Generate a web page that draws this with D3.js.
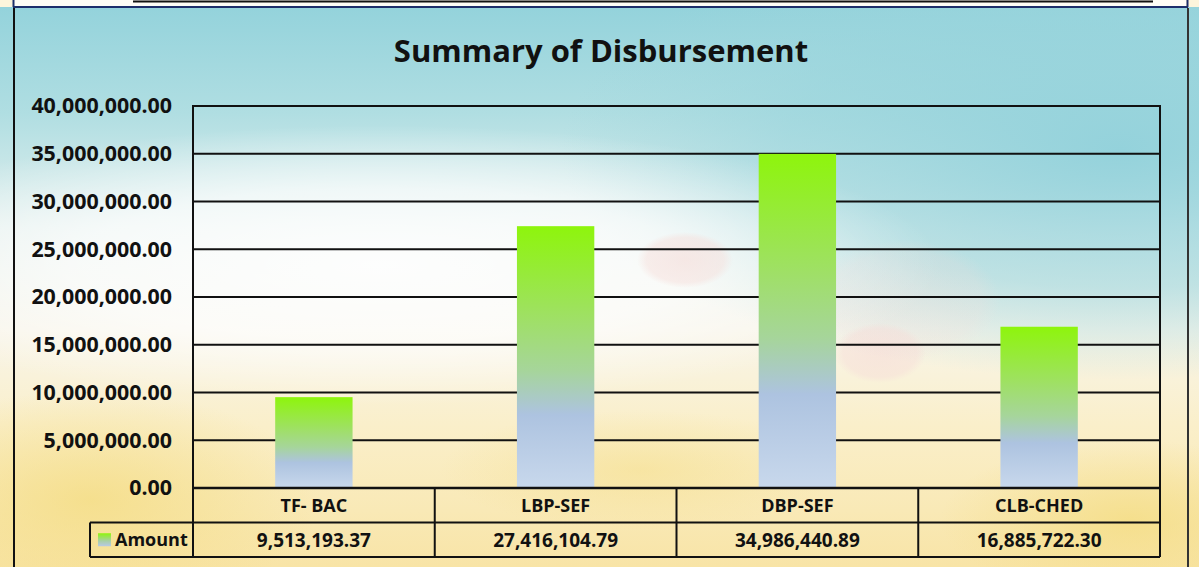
<!DOCTYPE html>
<html>
<head>
<meta charset="utf-8">
<script src="https://cdn.jsdelivr.net/npm/d3@7"></script>
<style>
  html, body { margin: 0; padding: 0; background: #fff; }
  svg { display: block; }
  text { font-family: "Open Sans", "Liberation Sans", sans-serif; font-weight: bold; fill: #111; }
</style>
</head>
<body>
<svg id="chart" width="1199" height="567"></svg>
<script>
// ---- data ----
const categories = ["TF- BAC", "LBP-SEF", "DBP-SEF", "CLB-CHED"];
const amounts = [9513193.37, 27416104.79, 34986440.89, 16885722.30];
const yTicks = [0, 5000000, 10000000, 15000000, 20000000, 25000000, 30000000, 35000000, 40000000];
const seriesName = "Amount";
const chartTitle = "Summary of Disbursement";

const W = 1199, H = 567;
const plot = { left: 193, right: 1160, top: 106, bottom: 488 };
const rowH = 34.5;

const svg = d3.select("#chart");
const defs = svg.append("defs");

// background gradients
const bg = defs.append("linearGradient").attr("id", "bgLin").attr("x1", 0).attr("y1", 0).attr("x2", 0).attr("y2", 1);
[[0, "#92d2db"], [0.2, "#b0dee2"], [0.4, "#e4f0ee"], [0.58, "#f8f5ea"], [0.75, "#faefca"], [0.9, "#f9e9b6"], [1, "#f8e4a6"]]
  .forEach(([o, c]) => bg.append("stop").attr("offset", o).attr("stop-color", c));

const glow = defs.append("radialGradient").attr("id", "glow");
glow.append("stop").attr("offset", 0).attr("stop-color", "#ffffff").attr("stop-opacity", 0.9);
glow.append("stop").attr("offset", 0.55).attr("stop-color", "#ffffff").attr("stop-opacity", 0.65);
glow.append("stop").attr("offset", 1).attr("stop-color", "#ffffff").attr("stop-opacity", 0);

const teal = defs.append("radialGradient").attr("id", "teal");
teal.append("stop").attr("offset", 0).attr("stop-color", "#8fd0da").attr("stop-opacity", 0.9);
teal.append("stop").attr("offset", 0.6).attr("stop-color", "#98d4dc").attr("stop-opacity", 0.55);
teal.append("stop").attr("offset", 1).attr("stop-color", "#a0d6dd").attr("stop-opacity", 0);

const pink = defs.append("radialGradient").attr("id", "pink");
pink.append("stop").attr("offset", 0).attr("stop-color", "#f6dcd8").attr("stop-opacity", 0.6);
pink.append("stop").attr("offset", 0.8).attr("stop-color", "#f6dcd8").attr("stop-opacity", 0.45);
pink.append("stop").attr("offset", 1).attr("stop-color", "#f6dcd8").attr("stop-opacity", 0);

const warm = defs.append("radialGradient").attr("id", "warm");
warm.append("stop").attr("offset", 0).attr("stop-color", "#f4dc80").attr("stop-opacity", 0.75);
warm.append("stop").attr("offset", 1).attr("stop-color", "#f4dc80").attr("stop-opacity", 0);

// bar gradient
const barGrad = defs.append("linearGradient").attr("id", "barGrad").attr("x1", 0).attr("y1", 0).attr("x2", 0).attr("y2", 1);
[[0, "#8ef50c"], [0.35, "#9fe065"], [0.55, "#a6d59a"], [0.72, "#adc3e0"], [1, "#c8d8ec"]]
  .forEach(([o, c]) => barGrad.append("stop").attr("offset", o).attr("stop-color", c));

// background layers
svg.append("rect").attr("width", W).attr("height", H).attr("fill", "url(#bgLin)");
svg.append("ellipse").attr("cx", 1120).attr("cy", 150).attr("rx", 560).attr("ry", 230).attr("fill", "url(#teal)");
svg.append("ellipse").attr("cx", 380).attr("cy", 265).attr("rx", 560).attr("ry", 140).attr("fill", "url(#glow)");
svg.append("ellipse").attr("cx", 90).attr("cy", 500).attr("rx", 230).attr("ry", 110).attr("fill", "url(#warm)");
svg.append("ellipse").attr("cx", 640).attr("cy", 470).attr("rx", 200).attr("ry", 60).attr("fill", "url(#warm)").attr("opacity", 0.6);
svg.append("ellipse").attr("cx", 1130).attr("cy", 520).attr("rx", 190).attr("ry", 80).attr("fill", "url(#warm)");
svg.append("ellipse").attr("cx", 685).attr("cy", 260).attr("rx", 48).attr("ry", 28).attr("fill", "url(#pink)");
svg.append("ellipse").attr("cx", 880).attr("cy", 353).attr("rx", 46).attr("ry", 30).attr("fill", "url(#pink)");
svg.append("ellipse").attr("cx", 905).attr("cy", 300).attr("rx", 95).attr("ry", 60).attr("fill", "url(#pink)").attr("opacity", 0.4);

// top strip (sheet above)
svg.append("rect").attr("x", 0).attr("y", 0).attr("width", W).attr("height", 7).attr("fill", "#fcf5dc");
svg.append("rect").attr("x", 14).attr("y", 0).attr("width", 1172).attr("height", 7).attr("fill", "#fffdf6");
svg.append("line").attr("x1", 133).attr("x2", 1153).attr("y1", 1.5).attr("y2", 1.5).attr("stroke", "#111").attr("stroke-width", 2);
svg.append("line").attr("x1", 13).attr("x2", 1188).attr("y1", 7).attr("y2", 7).attr("stroke", "#1d2f6b").attr("stroke-width", 2);
svg.append("line").attr("x1", 13.5).attr("x2", 13.5).attr("y1", 0).attr("y2", 7).attr("stroke", "#1d2f6b").attr("stroke-width", 2);
svg.append("line").attr("x1", 1187.5).attr("x2", 1187.5).attr("y1", 0).attr("y2", 7).attr("stroke", "#1d2f6b").attr("stroke-width", 2);
// chart frame sides
svg.append("line").attr("x1", 14).attr("x2", 14).attr("y1", 8).attr("y2", H).attr("stroke", "#111").attr("stroke-width", 2);
svg.append("line").attr("x1", 1188).attr("x2", 1188).attr("y1", 8).attr("y2", H).attr("stroke", "#333").attr("stroke-width", 2);

// title
svg.append("text").attr("x", 601).attr("y", 62).attr("text-anchor", "middle")
  .style("font-size", "31px").text(chartTitle);

// scales
const x = d3.scaleBand().domain(categories).range([plot.left, plot.right]).paddingInner(0.68).paddingOuter(0.34);
const xCell = d3.scaleBand().domain(categories).range([plot.left, plot.right]).padding(0);
const y = d3.scaleLinear().domain([0, 40000000]).range([plot.bottom, plot.top]);
const fmt = d3.format(",.2f");

// gridlines
svg.append("g").selectAll("line").data(yTicks.filter(d => d > 0)).join("line")
  .attr("x1", plot.left).attr("x2", plot.right)
  .attr("y1", d => y(d)).attr("y2", d => y(d))
  .attr("stroke", "#111").attr("stroke-width", 2);

// y axis labels
const yAxis = d3.axisLeft(y).tickValues(yTicks).tickFormat(fmt).tickSize(0).tickPadding(21);
const gy = svg.append("g").attr("transform", `translate(${plot.left},0)`).call(yAxis);
gy.select(".domain").remove();
gy.selectAll("text").style("font-size", "21.4px").style("font-family", "'Open Sans', sans-serif")
  .attr("fill", "#111").attr("dy", "0.32em");

// bars
svg.append("g").selectAll("rect").data(amounts).join("rect")
  .attr("x", (d, i) => x(categories[i]))
  .attr("width", x.bandwidth())
  .attr("y", d => y(d))
  .attr("height", d => y(0) - y(d))
  .attr("fill", "url(#barGrad)");

// plot frame (left, right, bottom)
svg.append("line").attr("x1", plot.left).attr("x2", plot.left).attr("y1", plot.top - 1).attr("y2", plot.bottom + 2 * rowH)
  .attr("stroke", "#111").attr("stroke-width", 2);
svg.append("line").attr("x1", plot.right).attr("x2", plot.right).attr("y1", plot.top - 1).attr("y2", plot.bottom + 2 * rowH)
  .attr("stroke", "#111").attr("stroke-width", 2);
svg.append("line").attr("x1", plot.left).attr("x2", plot.right).attr("y1", plot.bottom).attr("y2", plot.bottom)
  .attr("stroke", "#111").attr("stroke-width", 2.5);

// data table
const tbl = svg.append("g");
const legendLeft = 90;
tbl.selectAll("line.v").data(categories.slice(1)).join("line").attr("class", "v")
  .attr("x1", d => xCell(d)).attr("x2", d => xCell(d))
  .attr("y1", plot.bottom).attr("y2", plot.bottom + 2 * rowH)
  .attr("stroke", "#111").attr("stroke-width", 2);
tbl.append("line").attr("x1", legendLeft).attr("x2", plot.right)
  .attr("y1", plot.bottom + rowH).attr("y2", plot.bottom + rowH).attr("stroke", "#111").attr("stroke-width", 2);
tbl.append("line").attr("x1", legendLeft).attr("x2", plot.right)
  .attr("y1", plot.bottom + 2 * rowH).attr("y2", plot.bottom + 2 * rowH).attr("stroke", "#111").attr("stroke-width", 2);
tbl.append("line").attr("x1", legendLeft).attr("x2", legendLeft)
  .attr("y1", plot.bottom + rowH).attr("y2", plot.bottom + 2 * rowH).attr("stroke", "#111").attr("stroke-width", 2);

tbl.selectAll("text.cat").data(categories).join("text").attr("class", "cat")
  .attr("x", d => xCell(d) + xCell.bandwidth() / 2)
  .attr("y", plot.bottom + rowH / 2).attr("dy", "0.36em")
  .attr("text-anchor", "middle").style("font-size", "18px").text(d => d);

tbl.selectAll("text.val").data(amounts).join("text").attr("class", "val")
  .attr("x", (d, i) => xCell(categories[i]) + xCell.bandwidth() / 2)
  .attr("y", plot.bottom + rowH * 1.5).attr("dy", "0.36em")
  .attr("text-anchor", "middle").style("font-size", "19px").text(d => fmt(d));

// legend key
const lgGrad = defs.append("linearGradient").attr("id", "lgGrad").attr("x1", 0).attr("y1", 0).attr("x2", 0).attr("y2", 1);
[[0, "#8ef50c"], [0.6, "#a9cfa8"], [1, "#b8c9e6"]].forEach(([o, c]) => lgGrad.append("stop").attr("offset", o).attr("stop-color", c));
tbl.append("rect").attr("x", 98).attr("y", plot.bottom + rowH * 1.5 - 6.5).attr("width", 13).attr("height", 13).attr("fill", "url(#lgGrad)");
tbl.append("text").attr("x", 115).attr("y", plot.bottom + rowH * 1.5).attr("dy", "0.36em")
  .style("font-size", "18px").text(seriesName);
</script>
</body>
</html>
